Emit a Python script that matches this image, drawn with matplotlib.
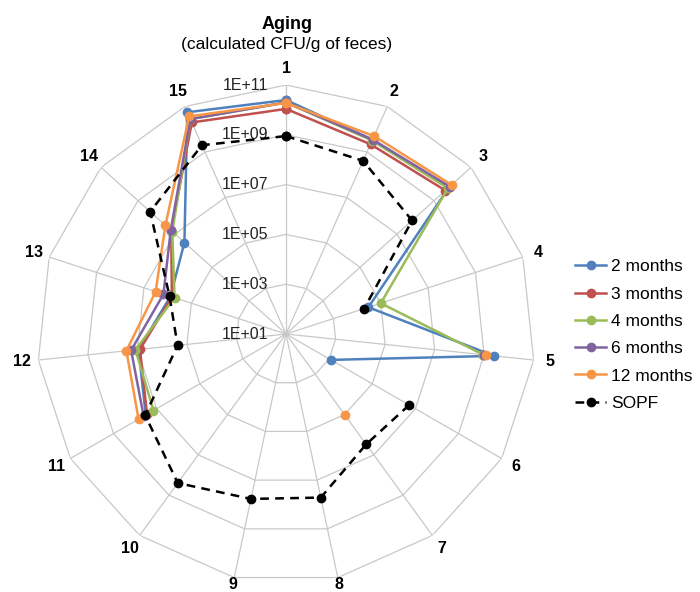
import numpy as np
import matplotlib
matplotlib.use("Agg")
import matplotlib.pyplot as plt

plt.rcParams['font.family'] = ['Liberation Sans', 'DejaVu Sans']

# Sampling sites (spokes of the radar)
categories = [str(i) for i in range(1, 16)]

# Calculated CFU/g of feces per site; nan = not detected / no value
nan = np.nan
months_2 = [2.5e10, 3.5e9, 6.3e9, 3.0e4, 2.5e9, 1.2e3, nan, nan, nan, nan,
            3.2e7, 9.0e6, 7.6e5, 3.1e6, 5.6e10]
months_3 = [1.1e10, 2.2e9, 4.1e9, nan, 8.9e8, nan, nan, nan, nan, nan,
            2.8e7, 7.9e6, 6.6e5, 1.6e7, 2.0e10]
months_4 = [2.0e10, 3.2e9, 5.6e9, 1.0e5, 9.3e8, nan, nan, nan, nan, nan,
            1.4e7, 1.2e7, 5.1e5, 1.4e7, 2.8e10]
months_6 = [2.0e10, 3.5e9, 7.1e9, nan, 1.0e9, nan, nan, nan, nan, nan,
            4.0e7, 1.8e7, 1.5e6, 1.7e7, 2.8e10]
months_12 = [1.9e10, 5.0e9, 8.9e9, nan, 1.15e9, nan, 1.0e5, nan, nan, nan,
             6.9e7, 2.8e7, 3.2e6, 3.3e7, 3.7e10]
sopf = [8.9e8, 4.1e8, 6.5e7, 2.0e4, nan, 5.1e6, 3.0e6, 5.2e7, 5.9e7, 2.5e8,
        3.4e7, 2.4e5, 8.3e5, 2.2e8, 2.0e9]

series_labels = ['2 months', '3 months', '4 months', '6 months', '12 months', 'SOPF']
series_values = [months_2, months_3, months_4, months_6, months_12, sopf]
series_colors = ['#4F81BD', '#C0504D', '#9BBB59', '#8064A2', '#F79646', 'black']

ring_values = [1e1, 1e3, 1e5, 1e7, 1e9, 1e11]
ring_labels = ['1E+01', '1E+03', '1E+05', '1E+07', '1E+09', '1E+11']
r_min, r_max = 1e1, 1e11

fig = plt.figure(figsize=(7.0, 5.92), dpi=100)
ax = fig.add_axes([0.0529, 0.0152, 0.7114, 0.8412], projection='polar')
ax.set_theta_zero_location('N')
ax.set_theta_direction(-1)
ax.set_rscale('log')
ax.set_ylim(r_min, r_max)
ax.grid(False)
ax.spines['polar'].set_visible(False)
ax.set_xticks([])
ax.set_yticks([])
ax.patch.set_alpha(0)

n = len(categories)
theta = np.linspace(0, 2 * np.pi, n, endpoint=False)
theta_closed = np.append(theta, theta[0])

grid_color = '#c8c8c8'
# polygonal rings
for rv in ring_values[1:]:
    ax.plot(theta_closed, [rv] * (n + 1), color=grid_color, lw=0.9, zorder=1)
# spokes
for t in theta:
    ax.plot([t, t], [r_min, r_max], color=grid_color, lw=0.9, zorder=1)

# ring value labels along the first spoke
for rv, lab in zip(ring_values, ring_labels):
    ax.annotate(lab, xy=(0, rv), xytext=(-13, 0), textcoords='offset points',
                ha='right', va='center', fontsize=11.5, color='#222222',
                annotation_clip=False, zorder=2)

# category labels outside the outer ring
def frac_to_r(f):
    return 10 ** (np.log10(r_min) + f * (np.log10(r_max) - np.log10(r_min)))

for t, lab in zip(theta, categories):
    f = 1.027 if np.cos(t) < -0.9 else 1.065
    ax.text(t, frac_to_r(f), lab, ha='center', va='center',
            fontsize=11.5, fontweight='bold', color='black')

# data series
for vals, lab, col in zip(series_values, series_labels, series_colors):
    v = np.append(np.array(vals, dtype=float), vals[0])
    if lab == 'SOPF':
        ax.plot(theta_closed, v, color=col, lw=1.8, ls=(0, (3.5, 2.5)),
                marker='o', ms=6, label=lab, zorder=3, clip_on=False)
    else:
        ax.plot(theta_closed, v, color=col, lw=1.8, marker='o', ms=6,
                label=lab, zorder=3, clip_on=False)

fig.text(0.41, 0.959, 'Aging', ha='center', va='center',
         fontsize=13, fontweight='bold')
fig.text(0.41, 0.924, '(calculated CFU/g of feces)', ha='center',
         va='center', fontsize=12.5)

handles, labels = ax.get_legend_handles_labels()
fig.legend(handles, labels, loc='center left',
           bbox_to_anchor=(0.822, 1 - 335 / 592), frameon=False,
           fontsize=12.5, handlelength=1.75, handletextpad=0.3,
           labelspacing=0.70, borderaxespad=0, borderpad=0)

fig.savefig('out.png', dpi=100)
